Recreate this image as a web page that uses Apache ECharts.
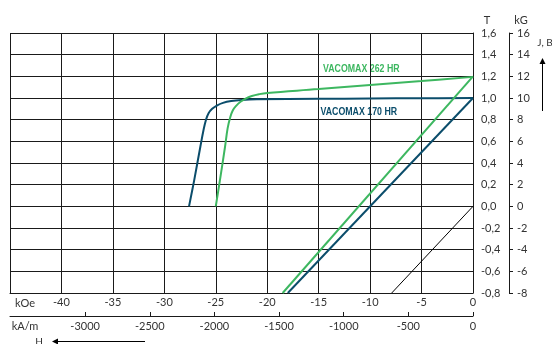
<!DOCTYPE html>
<html>
<head>
<meta charset="utf-8">
<script src="https://cdn.jsdelivr.net/npm/echarts@6/dist/echarts.min.js"></script>
<style>
  html, body { margin: 0; padding: 0; background: #fff; }
  #chart { width: 552px; height: 344px; }
</style>
</head>
<body>
<div id="chart"></div>
<script>
// 退磁曲线数据 (H: kOe, J/B: T)
const blueH = [-27.6, -27.1, -26.5, -26.2, -25.95, -25.7, -25.35, -24.9, -24.3, -23.5, -22.5, -21.0, -15, -10, -5, 0];
const blueJ = [0, 0.24, 0.55, 0.7, 0.8, 0.86, 0.9, 0.93, 0.955, 0.972, 0.982, 0.988, 0.992, 0.995, 0.998, 1.0];
const greenH = [-25.0, -24.6, -24.1, -23.85, -23.6, -23.35, -23.0, -22.6, -22.1, -21.5, -20.8, -20.0, -15, -10, -5, 0];
const greenJ = [0, 0.24, 0.55, 0.72, 0.82, 0.885, 0.93, 0.965, 0.995, 1.018, 1.035, 1.047, 1.082, 1.12, 1.157, 1.195];

// B 线
const blueLoadH = [-18.0, 0];
const blueLoadB = [-0.8, 1.0];
const greenLoadH = [-18.5, 0];
const greenLoadB = [-0.8, 1.2];
const muH = [-7.9, 0];
const muB = [-0.8, 0];

// 刻度
const kAmTicks = [-3000, -2500, -2000, -1500, -1000, -500, 0];
const kAmMin = -45 * 79.577;

const BLUE = "#0b4d6b";
const GREEN = "#3db760";
const GRID = "#1a1a1a";
const TXT = "#333";
const LABEL_FONT = "bold 11px 'Liberation Sans', Arial, sans-serif";

const pairs = (xs, ys) => xs.map((x, i) => [x, ys[i]]);

const chart = echarts.init(document.getElementById("chart"));

const option = {
  animation: false,
  textStyle: { fontFamily: "Lato, 'Noto Sans', sans-serif" },
  grid: { left: 10, top: 33, width: 463, height: 260 },
  xAxis: [
    {
      type: "value",
      min: -45,
      max: 0,
      interval: 5,
      axisLine: { show: true, onZero: false, lineStyle: { color: GRID } },
      axisTick: { show: false },
      splitLine: { show: true, lineStyle: { color: GRID, width: 1 } },
      axisLabel: {
        margin: 4,
        fontSize: 11,
        color: TXT,
        formatter: (v) => (v === -45 ? "" : String(v)),
      },
    },
    {
      type: "value",
      position: "bottom",
      offset: 23,
      min: kAmMin,
      max: 0,
      axisLine: { show: true, onZero: false, lineStyle: { color: GRID } },
      axisTick: { show: true, inside: true, length: 4, customValues: kAmTicks, lineStyle: { color: GRID } },
      splitLine: { show: false },
      axisLabel: {
        margin: 5,
        fontSize: 11,
        color: TXT,
        customValues: kAmTicks,
        formatter: (v) => String(v),
      },
    },
  ],
  yAxis: [
    {
      type: "value",
      position: "right",
      min: -0.8,
      max: 1.6,
      interval: 0.2,
      axisLine: { show: true, onZero: false, lineStyle: { color: GRID } },
      axisTick: { show: false },
      splitLine: { show: true, lineStyle: { color: GRID, width: 1 } },
      axisLabel: {
        margin: 8,
        fontSize: 11,
        color: TXT,
        formatter: (v) => v.toFixed(1).replace(".", ","),
      },
    },
    {
      type: "value",
      position: "right",
      offset: 36,
      min: -8,
      max: 16,
      interval: 2,
      axisLine: { show: true, onZero: false, lineStyle: { color: GRID } },
      axisTick: { show: true, length: 4, lineStyle: { color: GRID } },
      splitLine: { show: false },
      axisLabel: { margin: 8, fontSize: 11, color: TXT },
    },
  ],
  series: [
    {
      name: "VACOMAX 170 HR",
      type: "line",
      data: pairs(blueH, blueJ),
      smooth: 0.4,
      showSymbol: false,
      lineStyle: { color: BLUE, width: 2 },
      z: 3,
    },
    {
      name: "VACOMAX 262 HR",
      type: "line",
      data: pairs(greenH, greenJ),
      smooth: 0.4,
      showSymbol: false,
      lineStyle: { color: GREEN, width: 2 },
      z: 3,
    },
    {
      type: "line",
      data: pairs(blueLoadH, blueLoadB),
      showSymbol: false,
      lineStyle: { color: BLUE, width: 2 },
      z: 3,
    },
    {
      type: "line",
      data: pairs(greenLoadH, greenLoadB),
      showSymbol: false,
      lineStyle: { color: GREEN, width: 2 },
      z: 3,
    },
    {
      type: "line",
      data: pairs(muH, muB),
      showSymbol: false,
      lineStyle: { color: "#000", width: 1 },
      z: 3,
    },
  ],
  graphic: [
    { type: "text", x: 323, y: 68.5, scaleX: 0.8, style: { text: "VACOMAX 262 HR", fill: GREEN, font: LABEL_FONT, verticalAlign: "middle" } },
    { type: "text", x: 320.5, y: 112, scaleX: 0.8, style: { text: "VACOMAX 170 HR", fill: BLUE, font: LABEL_FONT, verticalAlign: "middle" } },
    { type: "text", x: 487, y: 20, style: { text: "T", fill: TXT, font: "11px Lato", align: "center", verticalAlign: "middle" } },
    { type: "text", x: 521, y: 20, style: { text: "kG", fill: TXT, font: "11px Lato", align: "center", verticalAlign: "middle" } },
    { type: "text", x: 545, y: 43, style: { text: "J, B", fill: TXT, font: "10px Lato", align: "center", verticalAlign: "middle" } },
    { type: "text", x: 25, y: 303, style: { text: "kOe", fill: TXT, font: "11px Lato", align: "center", verticalAlign: "middle" } },
    { type: "text", x: 25, y: 326, style: { text: "kA/m", fill: TXT, font: "11px Lato", align: "center", verticalAlign: "middle" } },
    { type: "text", x: 39, y: 342, style: { text: "H", fill: TXT, font: "10px Lato", align: "center", verticalAlign: "middle" } },
    // H 箭头
    { type: "line", shape: { x1: 145, y1: 341.5, x2: 56, y2: 341.5 }, style: { stroke: "#000", lineWidth: 1 } },
    { type: "polygon", shape: { points: [[52, 341.5], [58, 338.5], [58, 344.5]] }, style: { fill: "#000" } },
    // J, B 箭头
    { type: "line", shape: { x1: 542.5, y1: 111, x2: 542.5, y2: 63 }, style: { stroke: "#000", lineWidth: 1 } },
    { type: "polygon", shape: { points: [[542.5, 58], [539.5, 64], [545.5, 64]] }, style: { fill: "#000" } },
  ],
};

chart.setOption(option);
</script>
</body>
</html>
